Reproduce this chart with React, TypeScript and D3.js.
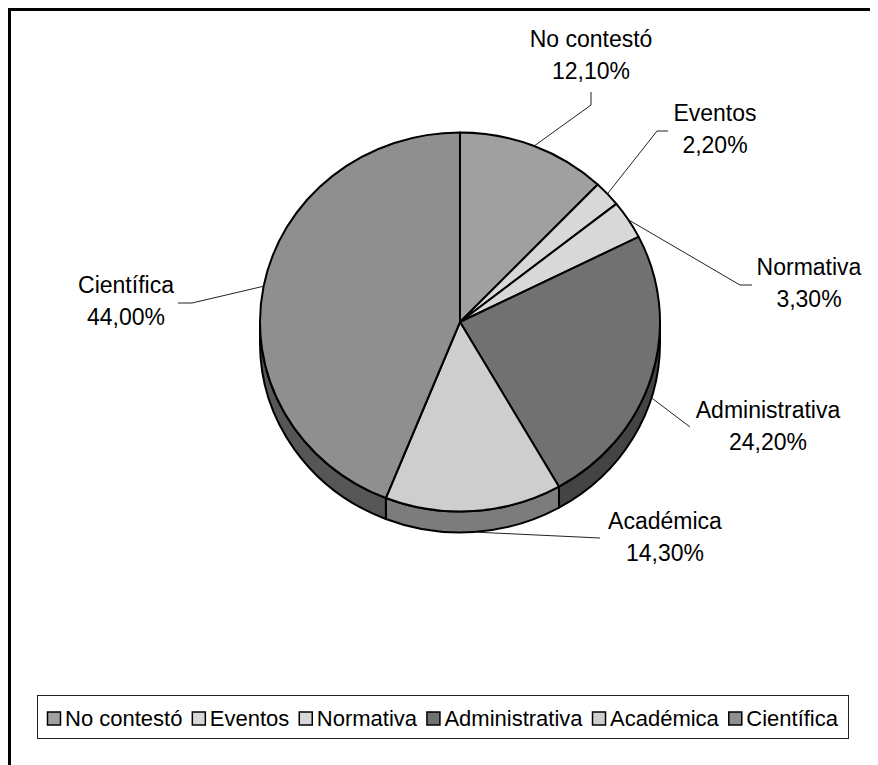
import React, { useEffect, useRef } from 'react';
import * as d3 from 'd3';

const categories = ['No contestó', 'Eventos', 'Normativa', 'Administrativa', 'Académica', 'Científica'];
const percentages = [12.1, 2.2, 3.3, 24.2, 14.3, 44.0];
const percentLabels = ['12,10%', '2,20%', '3,30%', '24,20%', '14,30%', '44,00%'];
const sliceColors = ['#a0a0a0', '#d8d8d8', '#d8d8d8', '#717171', '#cecece', '#8f8f8f'];

// where each data label sits (text centre x, first baseline) and the elbow of its leader line
const labelSpots: { x: number; y: number; elbow: [number, number][] }[] = [
  { x: 583, y: 39, elbow: [[583, 97], [583, 84]] },
  { x: 707, y: 113, elbow: [[649, 123], [660, 123]] },
  { x: 801, y: 267, elbow: [[732, 277], [744, 277]] },
  { x: 760, y: 410, elbow: [[682, 419]] },
  { x: 657, y: 521, elbow: [[592, 530]] },
  { x: 118, y: 285, elbow: [[184, 295], [170, 295]] },
];

const FONT = '"Liberation Sans", Arial, sans-serif';

const App: React.FC = () => {
  const svgRef = useRef<SVGSVGElement | null>(null);
  const width = 870;
  const height = 757;

  useEffect(() => {
    if (!svgRef.current) return;
    const svg = d3.select(svgRef.current);
    svg.selectAll('*').remove();

    const cx = 452;
    const cy = 314;
    const rx = 200;
    const ry = 189.5;
    const depth = 21;

    // outer frame, runs off the right and bottom of the picture
    svg
      .append('rect')
      .attr('x', 1.5)
      .attr('y', 1.5)
      .attr('width', 1000)
      .attr('height', 1000)
      .attr('fill', '#ffffff')
      .attr('stroke', '#000000')
      .attr('stroke-width', 3);

    const pie = d3
      .pie<number>()
      .sort(null)
      .value(d => d);
    const arcs = pie(percentages);

    const pt = (a: number, dy = 0): [number, number] => [cx + rx * Math.sin(a), cy - ry * Math.cos(a) + dy];

    const sideColor = (c: string) => {
      const col = d3.color(c)!.rgb();
      return d3.rgb(col.r * 0.6, col.g * 0.6, col.b * 0.6).formatHex();
    };

    const g = svg.append('g');

    // side walls on the front half
    arcs.forEach((a, i) => {
      const s = Math.max(a.startAngle, Math.PI / 2);
      const e = Math.min(a.endAngle, (Math.PI * 3) / 2);
      if (e <= s) return;
      const p0 = pt(s);
      const p1 = pt(e);
      const large = e - s > Math.PI ? 1 : 0;
      const d =
        `M${p0[0]},${p0[1]}` +
        `A${rx},${ry} 0 ${large} 1 ${p1[0]},${p1[1]}` +
        `L${p1[0]},${p1[1] + depth}` +
        `A${rx},${ry} 0 ${large} 0 ${p0[0]},${p0[1] + depth}Z`;
      g.append('path')
        .attr('d', d)
        .attr('fill', sideColor(sliceColors[i]))
        .attr('stroke', '#000000')
        .attr('stroke-width', 2)
        .attr('stroke-linejoin', 'round');
    });

    // top faces
    arcs.forEach((a, i) => {
      const p0 = pt(a.startAngle);
      const p1 = pt(a.endAngle);
      const large = a.endAngle - a.startAngle > Math.PI ? 1 : 0;
      const d = `M${cx},${cy}L${p0[0]},${p0[1]}A${rx},${ry} 0 ${large} 1 ${p1[0]},${p1[1]}Z`;
      g.append('path')
        .attr('d', d)
        .attr('fill', sliceColors[i])
        .attr('stroke', '#000000')
        .attr('stroke-width', 2)
        .attr('stroke-linejoin', 'round');
    });

    // leader lines and labels
    const line = d3.line<[number, number]>();
    arcs.forEach((a, i) => {
      const mid = (a.startAngle + a.endAngle) / 2;
      const start = pt(mid, Math.cos(mid) < 0 ? depth : 0);
      const spot = labelSpots[i];
      svg
        .append('path')
        .attr('d', line([start, ...spot.elbow]))
        .attr('fill', 'none')
        .attr('stroke', '#222222')
        .attr('stroke-width', 1);
      const t = svg
        .append('text')
        .attr('x', spot.x)
        .attr('y', spot.y)
        .attr('text-anchor', 'middle')
        .attr('font-family', FONT)
        .attr('font-size', 23)
        .attr('fill', '#000000');
      t.append('tspan').attr('x', spot.x).text(categories[i]);
      t.append('tspan').attr('x', spot.x).attr('dy', 32).text(percentLabels[i]);
    });

    // legend, entries spread across the box
    const box = { x: 29, y: 687, w: 811, h: 43 };
    svg
      .append('rect')
      .attr('x', box.x + 0.5)
      .attr('y', box.y + 0.5)
      .attr('width', box.w)
      .attr('height', box.h)
      .attr('fill', '#ffffff')
      .attr('stroke', '#222222')
      .attr('stroke-width', 1);

    const sw = 13;
    const gapAfterSwatch = 5;
    const pad = 10;
    const midY = box.y + box.h / 2 + 1;
    const items = categories.map((c, i) => {
      const grp = svg.append('g');
      grp
        .append('rect')
        .attr('x', 0.5)
        .attr('y', midY - sw / 2 + 1)
        .attr('width', sw)
        .attr('height', sw)
        .attr('fill', sliceColors[i])
        .attr('stroke', '#000000')
        .attr('stroke-width', 1.5);
      const txt = grp
        .append('text')
        .attr('x', sw + gapAfterSwatch)
        .attr('y', midY + 8)
        .attr('font-family', FONT)
        .attr('font-size', 22)
        .attr('fill', '#000000')
        .text(c);
      const w = sw + gapAfterSwatch + (txt.node() as SVGTextElement).getComputedTextLength();
      return { grp, w };
    });
    const used = d3.sum(items, d => d.w);
    const gap = (box.w - 2 * pad - used) / (items.length - 1);
    let x = box.x + pad;
    items.forEach(it => {
      it.grp.attr('transform', `translate(${x},0)`);
      x += it.w + gap;
    });
  }, []);

  return (
    <svg
      ref={svgRef}
      width={width}
      height={height}
      viewBox={`0 0 ${width} ${height}`}
      style={{ display: 'block' }}
    />
  );
};

export default App;
